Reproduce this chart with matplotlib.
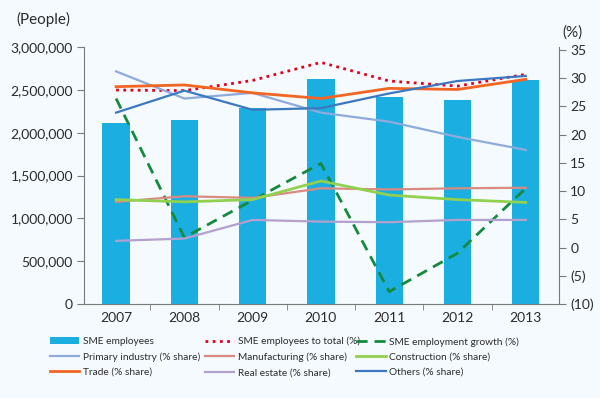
import matplotlib
matplotlib.use('Agg')
import matplotlib.pyplot as plt
from matplotlib.ticker import FuncFormatter

plt.rcParams['font.family'] = ['Lato', 'DejaVu Sans']

# ─── Data ─────────────────────────────────────────────────────────────────────
years = ['2007', '2008', '2009', '2010', '2011', '2012', '2013']
sme_employees = [2109000, 2148000, 2284000, 2623000, 2420000, 2381000, 2615000]
sme_to_total = [27.9, 27.8, 29.6, 32.8, 29.5, 28.6, 30.7]
sme_growth = [26.4, 1.8, 8.4, 14.9, -7.8, -1.0, 10.5]
primary = [31.2, 26.4, 27.4, 23.9, 22.3, 19.6, 17.3]
manufacturing = [8.1, 9.1, 8.8, 10.5, 10.3, 10.5, 10.6]
construction = [8.5, 8.1, 8.5, 11.8, 9.3, 8.5, 8.0]
trade = [28.5, 28.8, 27.4, 26.4, 28.2, 28.0, 29.8]
real_estate = [1.2, 1.6, 4.9, 4.6, 4.5, 4.9, 4.9]
others = [23.9, 27.8, 24.4, 24.7, 27.3, 29.5, 30.4]

BG = '#F4FAFD'
TXT = '#2B2B2B'
AX = '#7A7A7A'

fig = plt.figure(figsize=(6.0, 3.98), dpi=100)
fig.patch.set_facecolor(BG)
ax = fig.add_axes([0.14, 0.236, 0.792, 0.646])
ax.set_facecolor(BG)
x = range(len(years))

bars = ax.bar(x, sme_employees, width=0.40, color='#1AAFE0', zorder=2,
              label='SME employees')
ax.set_ylim(0, 3000000)
ax.set_xlim(-0.47, 6.49)
ax.yaxis.set_major_formatter(FuncFormatter(lambda v, p: f'{int(v):,}'))
ax.set_yticks(range(0, 3000001, 500000))
ax.set_xticks(list(x))
ax.set_xticklabels(years)
ax.set_xticks([i + 0.5 for i in range(6)], minor=True)
ax.tick_params(axis='x', which='major', length=0, pad=6, labelsize=10, colors=TXT)
ax.tick_params(axis='x', which='minor', length=4, direction='out', color=AX)
ax.tick_params(axis='y', length=5, color=AX, labelsize=10, colors=TXT, pad=3)
for s in ['top', 'right']:
    ax.spines[s].set_visible(False)
for s in ['left', 'bottom']:
    ax.spines[s].set_color(AX)

ax2 = ax.twinx()
ax2.set_ylim(-10, 35.53)
ax2.set_yticks(range(-10, 36, 5))
ax2.yaxis.set_major_formatter(FuncFormatter(
    lambda v, p: f'({abs(int(v))})' if v < 0 else f'{int(v)}'))
ax2.tick_params(axis='y', length=5, color=AX, labelsize=10, colors=TXT, pad=3)
for s in ['top', 'left', 'bottom']:
    ax2.spines[s].set_visible(False)
ax2.spines['right'].set_color(AX)

l1, = ax2.plot(x, sme_to_total, color='#E2001A', lw=2, ls=(0, (1, 1.6)),
               label='SME employees to total (%)')
l2, = ax2.plot(x, sme_growth, color='#138A3E', lw=2, ls=(0, (4, 2.5)),
               label='SME employment growth (%)')
l3, = ax2.plot(x, primary, color='#8FAADC', lw=1.6, label='Primary industry (% share)')
l4, = ax2.plot(x, manufacturing, color='#D98A82', lw=1.6, label='Manufacturing (% share)')
l5, = ax2.plot(x, construction, color='#92D050', lw=2, label='Construction (% share)')
l6, = ax2.plot(x, trade, color='#F26522', lw=2, label='Trade (% share)')
l7, = ax2.plot(x, real_estate, color='#B4A0CC', lw=1.6, label='Real estate (% share)')
l8, = ax2.plot(x, others, color='#3C78C0', lw=1.6, label='Others (% share)')

fig.text(0.028, 0.95, '(People)', fontsize=11, color=TXT, ha='left', va='center')
fig.text(0.938, 0.918, '(%)', fontsize=11, color=TXT, ha='left', va='center')

# one legend per column so each column starts where the reference has it
columns = [([bars, l3, l6], 0.083), ([l1, l4, l7], 0.341), ([l2, l5, l8], 0.594)]
for hs, x0 in columns:
    leg = fig.legend(handles=hs, loc='center left', bbox_to_anchor=(x0, 0.103),
                     ncol=1, frameon=False, handlelength=2.9, fontsize=7.3,
                     handletextpad=0.35, labelspacing=0.6,
                     borderaxespad=0, borderpad=0)
    for t in leg.get_texts():
        t.set_color(TXT)

plt.savefig('out.png', dpi=100, facecolor=fig.get_facecolor())
